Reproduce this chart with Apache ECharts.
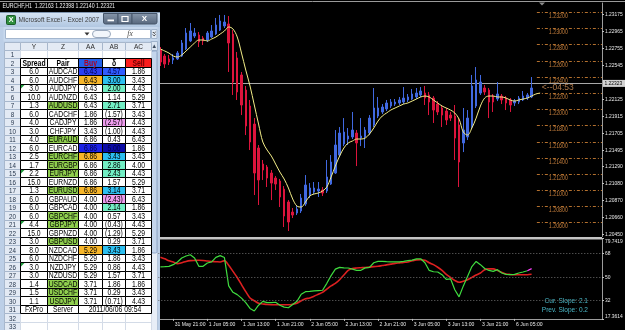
<!DOCTYPE html>
<html><head><meta charset="utf-8">
<script src="https://cdn.jsdelivr.net/npm/echarts@6/dist/echarts.min.js"></script>
<style>html,body{margin:0;padding:0;background:#000;overflow:hidden}#c{width:625px;height:330px}</style>
</head><body><div id="c"></div>
<script>
// ---------- Heiken-Ashi bars EURCHF H1: [open, close, low, high] ----------
const ha = [
[1.22730,1.22582,1.22533,1.22767],[1.22656,1.22557,1.22508,1.22681],[1.22619,1.22582,1.22545,1.22669],
[1.22607,1.22632,1.22557,1.22681],[1.22619,1.22693,1.22607,1.22718],[1.22656,1.22817,1.22644,1.22854],
[1.22743,1.22940,1.22730,1.23002],[1.22842,1.22965,1.22829,1.23064],[1.22903,1.22940,1.22879,1.23002],
[1.22916,1.22829,1.22767,1.22953],[1.22879,1.22842,1.22792,1.22903],[1.22854,1.22940,1.22829,1.22965],
[1.22891,1.22965,1.22879,1.23039],[1.22928,1.23039,1.22916,1.23126],[1.22977,1.23089,1.22965,1.23163],
[1.23027,1.23076,1.23002,1.23163],[1.23052,1.22817,1.22459,1.23150],[1.22928,1.22335,1.22175,1.22977],
[1.22632,1.22212,1.22113,1.22706],[1.22422,1.22051,1.21927,1.22459],[1.22236,1.21792,1.21680,1.22286],
[1.22039,1.21594,1.21495,1.22113],[1.21816,1.21211,1.20939,1.21890],[1.21520,1.21125,1.20816,1.21557],
[1.21322,1.21248,1.21125,1.21372],[1.21285,1.21149,1.21038,1.21310],[1.21211,1.21087,1.20877,1.21248],
[1.21149,1.21075,1.21001,1.21174],[1.21112,1.20915,1.20791,1.21137],[1.21013,1.20680,1.20544,1.21050],
[1.20853,1.20606,1.20495,1.20877],[1.20729,1.20692,1.20655,1.20779],[1.20717,1.20766,1.20692,1.20803],
[1.20742,1.20902,1.20717,1.20952],[1.20828,1.21063,1.20803,1.21186],[1.20939,1.21026,1.20902,1.21087],
[1.20976,1.21026,1.20952,1.21100],[1.20989,1.21013,1.20915,1.21100],[1.21001,1.20964,1.20927,1.21038],
[1.20989,1.21162,1.20964,1.21372],[1.21075,1.21347,1.21063,1.21433],[1.21211,1.21557,1.21199,1.21742],
[1.21433,1.21705,1.21409,1.21779],[1.21569,1.21717,1.21544,1.21890],[1.21631,1.21668,1.21557,1.21767],
[1.21656,1.21742,1.21631,1.21965],[1.21705,1.21582,1.21297,1.21742],[1.21643,1.21668,1.21544,1.21890],
[1.21656,1.21742,1.21520,1.21779],[1.21705,1.21890,1.21680,1.21927],[1.21804,1.22014,1.21779,1.22261],
[1.21915,1.22014,1.21890,1.22150],[1.21965,1.22026,1.21940,1.22063],[1.22002,1.22076,1.21977,1.22113],
[1.22039,1.22088,1.22014,1.22125],[1.22063,1.22088,1.22039,1.22125],[1.22076,1.22113,1.22051,1.22150],
[1.22088,1.22137,1.22063,1.22273],[1.22113,1.22150,1.22088,1.22187],[1.22125,1.22187,1.22113,1.22249],
[1.22150,1.22199,1.22125,1.22261],[1.22175,1.22224,1.22150,1.22273],[1.22199,1.22137,1.22051,1.22286],
[1.22175,1.22088,1.21927,1.22212],[1.22137,1.21989,1.21829,1.22162],[1.22063,1.21965,1.21927,1.22100],
[1.22014,1.21927,1.21779,1.22051],[1.21977,1.21866,1.21804,1.22014],[1.21927,1.21890,1.21853,1.21965],
[1.21915,1.21643,1.21372,1.22051],[1.21804,1.21347,1.21038,1.21890],[1.21582,1.21742,1.21470,1.22014],
[1.21656,1.21890,1.21619,1.21989],[1.21779,1.22286,1.21754,1.22422],[1.22039,1.22360,1.22014,1.22520],
[1.22199,1.22335,1.22175,1.22422],[1.22261,1.22212,1.22175,1.22298],[1.22236,1.22088,1.21890,1.22261],
[1.22162,1.22088,1.21965,1.22187],[1.22125,1.22187,1.22100,1.22335],[1.22162,1.22113,1.22063,1.22187],
[1.22137,1.22076,1.21989,1.22162],[1.22113,1.22051,1.21965,1.22137],[1.22076,1.22100,1.22039,1.22125],
[1.22088,1.22137,1.22063,1.22162],[1.22113,1.22162,1.22100,1.22224],[1.22137,1.22175,1.22113,1.22199],
[1.22150,1.22261,1.22137,1.22397]
];
// ---------- smoothed moving average (yellow) ----------
const maLine = [1.22743,1.22718,1.22693,1.22656,1.22644,1.22669,1.22718,1.22767,1.22817,1.22854,
1.22854,1.22842,1.22866,1.22891,1.22928,1.22965,1.23015,1.22990,1.22891,1.22693,
1.22483,1.22286,1.22051,1.21816,1.21594,1.21495,1.21421,1.21322,1.21223,1.21137,
1.21026,1.20890,1.20803,1.20791,1.20853,1.20927,1.20952,1.20964,1.20989,1.21038,
1.21162,1.21297,1.21421,1.21520,1.21582,1.21606,1.21631,1.21631,1.21643,1.21693,
1.21767,1.21853,1.21915,1.21952,1.21989,1.22014,1.22039,1.22063,1.22076,1.22100,
1.22125,1.22150,1.22162,1.22150,1.22113,1.22076,1.22039,1.22014,1.21989,1.21952,
1.21878,1.21717,1.21680,1.21767,1.21890,1.22039,1.22137,1.22162,1.22162,1.22150,
1.22150,1.22137,1.22113,1.22100,1.22113,1.22125,1.22137,1.22162,1.22187,1.22199];
// ---------- oscillator ----------
const oscFast = [57.7,57.9,58.2,59.5,61.6,64.7,66.2,67.2,64.7,58.2,58.2,60.8,61.6,65.2,66.5,65,43,38,36.2,33.5,
30,25.5,23.5,28,31,30,30,30.3,28,26.5,26,28.5,31,36.5,38.5,38.8,39.2,39.4,39.6,45,
51,56,57.4,57,56.9,56,55.1,55.1,57,57.4,61,62.1,62.1,61.8,61.6,61.6,61.6,62,62.6,63,
64,64.1,61,55,54,53.8,51.7,48,48.5,40,34.5,43,50.5,58,62,59.5,56.5,55,54.3,55.6,
53,52,51.7,52,53,53.8,54.8];
const oscFastLast = 56.4;
const oscSlow = [65.2,64,62.5,61.5,60.3,61,62,62.6,62.8,62.9,62.7,62.3,62,61.8,61.6,62.6,59,54.3,49.5,44,
38.5,33.6,31.5,29.5,29,28.5,28.4,28.4,28.4,28.4,28.4,28.8,29.6,31.5,33,33.6,35,36.5,38,40.5,
43,45,47.8,51.5,55,56.5,56.9,57.1,57.3,57.6,58,58.2,58.8,59.3,59.9,60.5,60.9,61.3,61.6,62.5,
63.2,63.3,62.9,61,59.5,57.5,55,52,49.5,47.2,45.8,46.6,47.8,49.6,51.5,53,55.6,56.2,56.2,55,
53.5,52.3,51.9,51.7,51.7,51.7,51.7,52];
const oscLevels = [68, 50, 32];
const oscTicks = [79.7419, 68, 50, 32, 17.3614];
// ---------- price axis ----------
const priceTicks = [1.23175,1.22965,1.22755,1.22545,1.22125,1.21915,1.21705,1.21495,1.21290,1.21080,1.20870,1.20660,1.20450];
const roundLevels = [1.232,1.230,1.228,1.226,1.224,1.222,1.220,1.218,1.216,1.214,1.212,1.210,1.208,1.206];
const bidPrice = 1.22323;
const barTimer = '<--04:53';
const symbolTitle = 'EURCHF,H1  1.22163 1.22398 1.22140 1.22321';
const slopeTexts = ['Cur. Slope: 2.1', 'Prev. Slope: 0.2'];
// ---------- Excel sheet ----------
const colNames = ['Y','Z','AA','AB','AC'];
const headRow = ['Spread','Pair','Buy','\u03b4','Sell'];
const spread = [6.0,6.0,3.0,10.0,1.3,6.0,4.0,3.0,4.0,6.0,2.5,1.7,2.2,15.0,1.3,6.0,6.0,6.0,4.4,15.0,3.0,8.0,6.0,3.0,3.0,1.4,1.5,1.1];
const pairs = ['AUDCAD','AUDCHF','AUDJPY','AUDNZD','AUDUSD','CADCHF','CADJPY','CHFJPY','EURAUD','EURCAD','EURCHF','EURGBP','EURJPY','EURNZD','EURUSD','GBPAUD','GBPCAD','GBPCHF','GBPJPY','GBPNZD','GBPUSD','NZDCAD','NZDCHF','NZDJPY','NZDUSD','USDCAD','USDCHF','USDJPY'];
const buy = [6.43,6.43,6.43,6.43,6.43,1.86,1.86,3.43,6.86,6.86,6.86,6.86,6.86,6.86,6.86,4.00,4.00,4.00,4.00,4.00,4.00,5.29,5.29,5.29,5.29,3.71,3.71,3.71];
const delta = [4.57,3.00,2.00,1.14,2.71,-1.57,-2.57,-1.00,0.43,5.00,3.43,2.86,2.43,1.57,3.14,-2.43,2.14,0.57,-0.43,-1.29,0.29,3.43,1.86,0.86,1.57,1.86,0.29,-0.71];
const sell = [1.86,3.43,4.43,5.29,3.71,3.43,4.43,4.43,6.43,1.86,3.43,4.00,4.43,5.29,3.71,6.43,1.86,3.43,4.43,5.29,3.71,1.86,3.43,4.43,3.71,1.86,3.43,4.43];
const footer = ['FxPro','Server','2011/06/06 09:54'];

// ---------- styles (kept apart from data) ----------
const FONT = '"Liberation Sans",Arial,sans-serif';
const SQ = 0.82;   // horizontal squeeze of the screenshot's lettering
const pairGreen = ['AUDUSD','EURAUD','EURCHF','EURGBP','EURJPY','EURUSD','GBPCHF','GBPJPY','GBPUSD','USDCAD','USDCHF','USDJPY'];
const buyFill = {0:'#2a3ef2',1:'#f7b62a',9:'#1c22e6',10:'#f7b62a',14:'#f7b62a',21:'#f7b62a'};
const deltaFill = {0:'#2f5cff',1:'#2cbff0',2:'#72eec4',4:'#72eec4',6:'#ee9cee',9:'#0b0ba6',10:'#2cbff0',11:'#72eec4',12:'#72eec4',14:'#2cbff0',15:'#ee9cee',16:'#72eec4',21:'#2cbff0'};
const darkFills = ['#2a3ef2','#1c22e6','#2f5cff','#0b0ba6'];
const errMarkRows = [5,15,21,26];
const colEdges = [0,16,42.7,74.3,97.7,120.7,147];

// squeezed text element
function T(x, y, text, o){
  o = o || {};
  return {type:'text', x:x, y:y, scaleX:o.sx||SQ, z2:o.z2||10,
    style:{text:text, x:0, y:0, align:o.align||'left', verticalAlign:o.va||'middle', fill:o.fill||'#e8e8e8',
      fontSize:o.fs||6, fontWeight:o.bold?'bold':'normal', fontStyle:o.italic?'italic':'normal', fontFamily:o.family||FONT}};
}

// ---------- categories (hourly bars, weekend skipped) ----------
const MONTHS = ['Jan','Feb','Mar','Apr','May','Jun','Jul','Aug','Sep','Oct','Nov','Dec'];
const cats = [];
let t = Date.UTC(2011,4,31,18);
for (let i = 0; i < ha.length; i++) {
  let d = new Date(t);
  if (d.getUTCDay() === 6) { t += 48*3600e3; d = new Date(t); }
  cats.push(d.getUTCDate() + ' ' + MONTHS[d.getUTCMonth()] + ' ' + String(d.getUTCHours()).padStart(2,'0') + ':00');
  t += 3600e3;
}
for (let k = 0; k < 16; k++) cats.push('+' + (k+1));
const labelIv = (idx) => idx >= 3 && idx < ha.length && (idx - 3) % 8 === 0;
const timeLabelIdx = cats.map((c,i)=>i).filter(i=>labelIv(i));

// ---------- Excel cells ----------
const fmt2 = v => v < 0 ? '(' + Math.abs(v).toFixed(2) + ')' : v.toFixed(2);
const cells = [];
const HDR = '#e3eaf4';
cells.push({c0:0,c1:1,r:0,text:'',bg:HDR,stroke:'#a7b7cc'});
colNames.forEach((n,k)=>cells.push({c0:k+1,c1:k+2,r:0,text:n,bg:HDR,stroke:'#a7b7cc',color:'#2b2b2b',fs:8}));
for (let r = 1; r <= 33; r++) cells.push({c0:0,c1:1,r,text:String(r),bg:HDR,stroke:'#a7b7cc',color:'#26364c',fs:7.6});
[1,32,33].forEach(r=>{ for (let k=1;k<=5;k++) cells.push({c0:k,c1:k+1,r,text:'',bg:'#ffffff',stroke:'#d3dbe7'}); });
const black = [];
headRow.forEach((h,k)=>{
  const c = {c0:k+1,c1:k+2,r:2,text:h,bg:'#ffffff',stroke:'#000',bold:true,color:'#000'};
  if (k===2){ c.bg='#2462ea'; c.color='#b00020'; }
  if (k===4){ c.bg='#fa1c1c'; c.color='#6a0000'; }
  black.push(c);
});
pairs.forEach((p,j)=>{
  const r = j + 3;
  black.push({c0:1,c1:2,r,text:spread[j].toFixed(1),bg:'#fff',stroke:'#000',mark:errMarkRows.includes(r)});
  black.push({c0:2,c1:3,r,text:p,bg:pairGreen.includes(p)?'#8fce4e':'#fff',stroke:'#000'});
  const bf = buyFill[j] || '#fff';
  black.push({c0:3,c1:4,r,text:buy[j].toFixed(2),bg:bf,stroke:'#000',color:darkFills.includes(bf)?'#00004a':'#000'});
  const df = deltaFill[j] || '#fff';
  black.push({c0:4,c1:5,r,text:fmt2(delta[j]),bg:df,stroke:'#000',color:darkFills.includes(df)?'#00004a':'#000'});
  black.push({c0:5,c1:6,r,text:sell[j].toFixed(2),bg:'#fff',stroke:'#000'});
});
black.push({c0:1,c1:2,r:31,text:footer[0],bg:'#fff',stroke:'#000'});
black.push({c0:2,c1:3,r:31,text:footer[1],bg:'#fff',stroke:'#000'});
black.push({c0:3,c1:6,r:31,text:footer[2],bg:'#fff',stroke:'#000'});
cells.push(...black);
const rowNames = ['hdr']; for (let r=1;r<=33;r++) rowNames.push('r'+r);

function renderCell(params, api){
  const m = cells[params.dataIndex];
  const a = api.coord([colEdges[m.c0], m.r]);
  const b = api.coord([colEdges[m.c1], m.r]);
  const h = api.size([0,1])[1];
  const x0 = Math.round(a[0])+0.5, x1 = Math.round(b[0])+0.5;
  const y0 = Math.round(a[1]-h/2)+0.5, y1 = Math.round(a[1]+h/2)+0.5;
  const ch = [{type:'rect',shape:{x:x0,y:y0,width:x1-x0,height:y1-y0},style:{fill:m.bg,stroke:m.stroke,lineWidth:1}}];
  if (m.text) ch.push(T((x0+x1)/2,(y0+y1)/2+0.5,m.text,{align:'center',fill:m.color||'#000',fs:m.fs||8.3,bold:m.bold}));
  if (m.mark) ch.push({type:'polygon',shape:{points:[[x0+0.5,y0+0.5],[x0+4,y0+0.5],[x0+0.5,y0+4]]},style:{fill:'#1f9a3c'}});
  return {type:'group',children:ch};
}
function renderLevel(params, api){
  const p = api.coord([api.value(0), api.value(1)]);
  const right = params.coordSys.x + params.coordSys.width;
  const y = Math.round(p[1]) + 0.5;
  return {type:'group',children:[
    {type:'line',shape:{x1:p[0]+1,y1:y,x2:right,y2:y},style:{stroke:'#b3702e',lineWidth:1,lineDash:[3,2,1,2]}},
    T(p[0]+13, y+0.5, api.value(1).toFixed(5), {va:'top',fill:'#c47e3c',fs:6.4})
  ]};
}
function renderTimer(params, api){
  const p = api.coord([api.value(0), api.value(1)]);
  return T(p[0]+6, p[1]+5, barTimer, {fill:'#b07a4c', fs:8.5, sx:1});
}
function renderBid(params, api){
  const p = api.coord([0, api.value(1)]);
  const xr = params.coordSys.x + params.coordSys.width;
  const y = Math.round(p[1]) + 0.5;
  return {type:'group',children:[
    {type:'line',shape:{x1:params.coordSys.x,y1:y,x2:xr,y2:y},style:{stroke:'#a8a8a8',lineWidth:1}},
    {type:'rect',shape:{x:xr+1,y:y-3.6,width:22.5,height:7},style:{fill:'#d2d2d2'}},
    T(xr+2.5, y, api.value(1).toFixed(5), {fill:'#000', fs:6})
  ]};
}
function renderPriceLabel(params, api){
  const v = api.value(1);
  const p = api.coord([0, v]);
  const xr = params.coordSys.x + params.coordSys.width;
  return T(xr+3, p[1], v.toFixed(5), {fs:6});
}
function renderOscLabel(params, api){
  const v = api.value(1);
  const p = api.coord([0, v]);
  const xr = params.coordSys.x + params.coordSys.width;
  let dy = 0;
  if (v === oscTicks[0]) dy = 3.2;
  if (v === oscTicks[oscTicks.length-1]) dy = -2.8;
  return T(xr+3, p[1]+dy, String(v), {fs:6});
}
function renderTimeLabel(params, api){
  const i = api.value(0);
  const p = api.coord([i, api.value(1)]);
  return T(p[0]+1.5, p[1]+5.6, cats[i], {fs:6.2});
}

const grad = (a,b)=>new echarts.graphic.LinearGradient(0,0,0,1,[{offset:0,color:a},{offset:1,color:b}]);
const btnFill = grad('#8797ab','#56667c');
const excelChrome = [
  {type:'rect',z:5,shape:{x:0,y:12,width:160,height:318},style:{fill:'#bccfe7'}},
  {type:'rect',z:5,shape:{x:0,y:12,width:160,height:15},style:{fill:grad('#d8e5f4','#b1c7e1')}},
  {type:'line',z:5,shape:{x1:0,y1:12.5,x2:160,y2:12.5},style:{stroke:'#8096b0'}},
  {type:'rect',z:6,shape:{x:6.5,y:15.5,width:9,height:9,r:1},style:{fill:'#2f8e3e',stroke:'#1b5c29'}},
  {type:'text',z:7,style:{text:'X',x:11,y:20.3,align:'center',verticalAlign:'middle',fill:'#fff',fontSize:7,fontWeight:'bold',fontFamily:FONT}},
  Object.assign(T(18.5,20.3,'Microsoft Excel - Excel 2007',{fill:'#3b3b3b',fs:7.8}),{z:7}),
  {type:'rect',z:6,shape:{x:103.5,y:13.5,width:14.5,height:10.5,r:[0,0,0,2]},style:{fill:btnFill,stroke:'#46566b'}},
  {type:'rect',z:6,shape:{x:118,y:13.5,width:14,height:10.5},style:{fill:btnFill,stroke:'#46566b'}},
  {type:'rect',z:6,shape:{x:132,y:13.5,width:25,height:10.5,r:[0,0,2,0]},style:{fill:btnFill,stroke:'#46566b'}},
  {type:'rect',z:7,shape:{x:107.5,y:19.5,width:6.5,height:1.8},style:{fill:'#fff'}},
  {type:'rect',z:7,shape:{x:122,y:16.5,width:6,height:5},style:{fill:'none',stroke:'#fff',lineWidth:1.2}},
  {type:'text',z:7,style:{text:'X',x:144.5,y:19,align:'center',verticalAlign:'middle',fill:'#fff',fontSize:8,fontWeight:'bold',fontFamily:FONT}},
  {type:'rect',z:5,shape:{x:3.5,y:27,width:154,height:14.5},style:{fill:'#c8d9ee'}},
  {type:'rect',z:6,shape:{x:5.5,y:29.5,width:145,height:9},style:{fill:'#fff',stroke:'#a3b6ce'}},
  {type:'polygon',z:7,shape:{points:[[84.5,32.5],[89.5,32.5],[87,35.5]]},style:{fill:'#333'}},
  {type:'rect',z:7,shape:{x:92.5,y:30.5,width:18,height:7,r:3.5},style:{fill:'#f2f6fb',stroke:'#9aa9bd'}},
  {type:'text',z:7,style:{text:'fx',x:130,y:34,align:'center',verticalAlign:'middle',fill:'#444',fontSize:7.5,fontStyle:'italic',fontFamily:'"Liberation Serif",serif'}},
  {type:'rect',z:7,shape:{x:151.5,y:29.5,width:5.5,height:9},style:{fill:'#e2eaf5',stroke:'#a3b6ce'}},
  {type:'polyline',z:7,shape:{points:[[152.8,32],[154.2,33.4],[155.6,32]]},style:{stroke:'#333',fill:'none'}},
  {type:'polyline',z:7,shape:{points:[[152.8,34.5],[154.2,35.9],[155.6,34.5]]},style:{stroke:'#333',fill:'none'}},
  {type:'rect',z:6,shape:{x:151,y:41.5,width:6.5,height:290},style:{fill:'#e8eef7',stroke:'#b4c5db'}},
  {type:'rect',z:6,shape:{x:151,y:41.5,width:6.5,height:9},style:{fill:'#dbe5f2',stroke:'#9fb3cc'}},
  {type:'polygon',z:7,shape:{points:[[152.5,48],[156,48],[154.25,44.5]]},style:{fill:'#3d4b5e'}},
  {type:'rect',z:6,shape:{x:151.5,y:51,width:5.5,height:202,r:1.5},style:{fill:'#c4d5ec',stroke:'#8ea6c8'}}
];

const option = {
  backgroundColor:'#000', animation:false,
  textStyle:{fontFamily:FONT},
  grid:[
    {left:158.3, top:3, width:443.7, height:233.5},
    {left:158.3, top:238.6, width:443.7, height:80.3},
    {left:4, top:41.5, width:147, height:293.76}
  ],
  xAxis:[
    {type:'category',gridIndex:0,data:cats,axisLine:{show:false},axisTick:{show:false},axisLabel:{show:false},splitLine:{show:false}},
    {type:'category',gridIndex:1,data:cats,axisLine:{show:true,lineStyle:{color:'#9c9c9c'}},
      axisTick:{show:true,interval:labelIv,alignWithLabel:true,length:2,lineStyle:{color:'#c0c0c0'}},
      axisLabel:{show:false},splitLine:{show:false}},
    {type:'value',gridIndex:2,min:0,max:147,show:false}
  ],
  yAxis:[
    {type:'value',gridIndex:0,position:'right',min:1.20427,max:1.23311,splitLine:{show:false},
      axisLine:{show:true,lineStyle:{color:'#9c9c9c'}},
      axisTick:{show:true,customValues:priceTicks,length:2,lineStyle:{color:'#c0c0c0'}},
      axisLabel:{show:false}},
    {type:'value',gridIndex:1,position:'right',min:17.3614,max:79.7419,splitLine:{show:false},
      axisLine:{show:true,lineStyle:{color:'#9c9c9c'}},
      axisTick:{show:true,customValues:oscTicks,length:2,lineStyle:{color:'#c0c0c0'}},
      axisLabel:{show:false}},
    {type:'category',gridIndex:2,data:rowNames,inverse:true,show:false}
  ],
  series:[
    {type:'custom',xAxisIndex:0,yAxisIndex:0,data:[[0,bidPrice]],renderItem:renderBid,z:1},
    {type:'candlestick',xAxisIndex:0,yAxisIndex:0,data:ha,barWidth:2,
      itemStyle:{color:'#4169e1',color0:'#dc143c',borderColor:'#4169e1',borderColor0:'#dc143c',borderWidth:1}},
    {type:'line',xAxisIndex:0,yAxisIndex:0,data:maLine,smooth:0.35,symbol:'none',lineStyle:{color:'#f4ee88',width:1},z:3},
    {type:'custom',xAxisIndex:0,yAxisIndex:0,data:roundLevels.map(v=>[ha.length,v]),renderItem:renderLevel,z:1},
    {type:'custom',xAxisIndex:0,yAxisIndex:0,data:[[ha.length,bidPrice]],renderItem:renderTimer,z:4},
    {type:'custom',xAxisIndex:0,yAxisIndex:0,data:priceTicks.map(v=>[0,v]),renderItem:renderPriceLabel,z:4},
    {type:'line',xAxisIndex:1,yAxisIndex:1,data:oscSlow,smooth:0.3,symbol:'none',lineStyle:{color:'#dd2020',width:1.6},
      markLine:{silent:true,symbol:'none',animation:false,label:{show:false},data:oscLevels.map(v=>({yAxis:v})),
        lineStyle:{color:'#6e6e6e',type:[1,2],width:1}}},
    {type:'line',xAxisIndex:1,yAxisIndex:1,data:oscFast,symbol:'none',lineStyle:{color:'#3fdc3f',width:1.2},z:3},
    {type:'line',xAxisIndex:1,yAxisIndex:1,data:oscFast.map((v,i)=>i===oscFast.length-1?v:null).concat([oscFastLast]),symbol:'none',lineStyle:{color:'#ff44ff',width:1.2},z:4},
    {type:'custom',xAxisIndex:1,yAxisIndex:1,data:oscTicks.map(v=>[0,v]),renderItem:renderOscLabel,z:4},
    {type:'custom',xAxisIndex:1,yAxisIndex:1,data:timeLabelIdx.map(i=>[i,oscTicks[oscTicks.length-1]]),renderItem:renderTimeLabel,z:4},
    {type:'custom',xAxisIndex:2,yAxisIndex:2,data:cells.map(m=>[m.c0,m.c1,m.r]),encode:{x:[0,1],y:2},renderItem:renderCell,z:8}
  ],
  graphic:[
    {type:'line',z:0,shape:{x1:0,y1:1.5,x2:625,y2:1.5},style:{stroke:'#9a9a9a',lineWidth:1}},
    {type:'rect',z:0,shape:{x:0,y:237,width:602,height:2.4},style:{fill:'#c4c4c4'}},
    {type:'polygon',z:1,shape:{points:[[539,2.5],[545,2.5],[542,5.5]]},style:{fill:'#8a8a8a'}},
    Object.assign(T(588,301,slopeTexts[0],{align:'right',fill:'#4ab7c7',fs:8}),{z:1}),
    Object.assign(T(588,309.5,slopeTexts[1],{align:'right',fill:'#4ab7c7',fs:8}),{z:1}),
    ...excelChrome,
    Object.assign(T(2.5,6.3,symbolTitle,{fill:'#f0f0f0',fs:6.4}),{z:9})
  ]
};
const chart = echarts.init(document.getElementById('c'), null, {width:625,height:330});
chart.setOption(option);
</script></body></html>
